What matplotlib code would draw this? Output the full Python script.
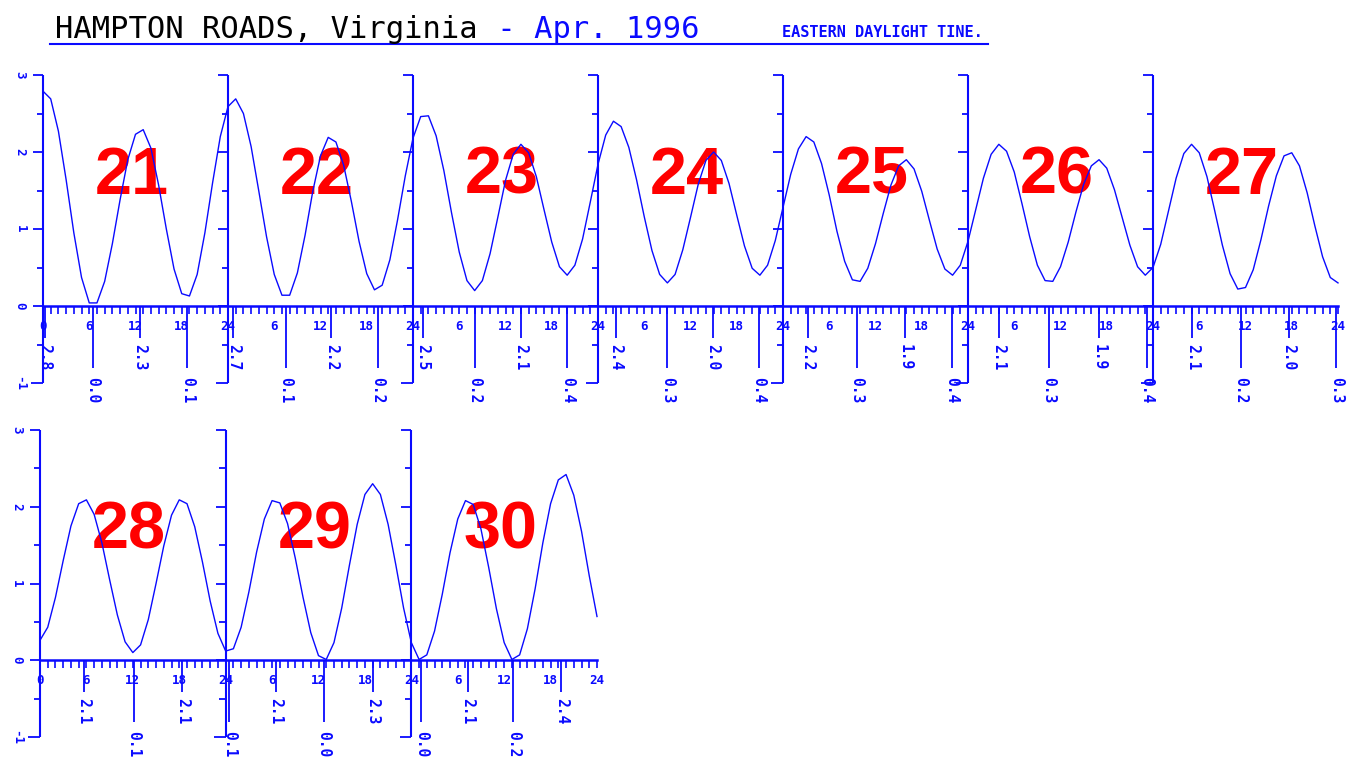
import numpy as np
import matplotlib.pyplot as plt
from matplotlib.lines import Line2D

BLUE = '#0a0aff'
RED = '#ff0000'
MONO = 'DejaVu Sans Mono'

W, H = 1353, 759

# ---- data: hourly heights (ft), hour 0..23 of each day
tide_21 = [2.79, 2.69, 2.27, 1.64, 0.95, 0.37, 0.04, 0.04, 0.32, 0.81, 1.38, 1.90,
           2.23, 2.29, 2.05, 1.57, 1.00, 0.48, 0.16, 0.13, 0.41, 0.95, 1.60, 2.20]
tide_22 = [2.59, 2.69, 2.50, 2.07, 1.49, 0.90, 0.41, 0.14, 0.14, 0.43, 0.92, 1.49,
           1.95, 2.19, 2.13, 1.83, 1.36, 0.84, 0.42, 0.21, 0.27, 0.60, 1.12, 1.69]
tide_23 = [2.18, 2.46, 2.47, 2.21, 1.76, 1.21, 0.70, 0.33, 0.20, 0.33, 0.68, 1.15,
           1.63, 1.97, 2.10, 1.99, 1.68, 1.25, 0.83, 0.51, 0.40, 0.53, 0.87, 1.35]
tide_24 = [1.84, 2.22, 2.40, 2.33, 2.06, 1.64, 1.16, 0.72, 0.41, 0.30, 0.41, 0.73,
           1.15, 1.58, 1.89, 2.00, 1.89, 1.59, 1.18, 0.78, 0.49, 0.40, 0.53, 0.85]
tide_25 = [1.28, 1.71, 2.04, 2.20, 2.13, 1.85, 1.44, 0.97, 0.58, 0.34, 0.32, 0.49,
           0.81, 1.20, 1.57, 1.82, 1.90, 1.78, 1.49, 1.11, 0.74, 0.48, 0.40, 0.53]
tide_26 = [0.84, 1.25, 1.66, 1.97, 2.10, 2.01, 1.74, 1.33, 0.90, 0.53, 0.33, 0.32,
           0.51, 0.83, 1.22, 1.58, 1.82, 1.90, 1.79, 1.51, 1.15, 0.79, 0.51, 0.40]
tide_27 = [0.50, 0.80, 1.23, 1.66, 1.98, 2.10, 1.99, 1.68, 1.24, 0.79, 0.42, 0.22,
           0.24, 0.47, 0.86, 1.30, 1.69, 1.95, 1.99, 1.82, 1.47, 1.04, 0.64, 0.37]
tide_28 = [0.26, 0.43, 0.82, 1.30, 1.75, 2.04, 2.09, 1.90, 1.53, 1.05, 0.59, 0.24,
           0.10, 0.20, 0.53, 1.00, 1.49, 1.89, 2.09, 2.04, 1.74, 1.28, 0.77, 0.35]
tide_29 = [0.12, 0.15, 0.43, 0.89, 1.41, 1.84, 2.08, 2.05, 1.78, 1.33, 0.82, 0.36,
           0.06, 0.01, 0.23, 0.68, 1.24, 1.77, 2.16, 2.30, 2.16, 1.77, 1.24, 0.68]
tide_30 = [0.23, 0.01, 0.07, 0.38, 0.86, 1.40, 1.84, 2.08, 2.03, 1.71, 1.21, 0.67,
           0.23, 0.01, 0.07, 0.41, 0.93, 1.53, 2.04, 2.35, 2.42, 2.15, 1.68, 1.10]
end_top = 0.30      # Apr 27, 24:00
end_bottom = 0.57   # Apr 30, 24:00

# high / low waters: (hour of day, height)
ext_21 = [(0.2, 2.8), (6.5, 0.0), (12.6, 2.3), (18.7, 0.1)]
ext_22 = [(0.7, 2.7), (7.5, 0.1), (13.4, 2.2), (19.4, 0.2)]
ext_23 = [(1.3, 2.5), (8.0, 0.2), (14.0, 2.1), (20.0, 0.4)]
ext_24 = [(2.3, 2.4), (9.0, 0.3), (14.9, 2.0), (20.9, 0.4)]
ext_25 = [(3.2, 2.2), (9.6, 0.3), (15.8, 1.9), (21.9, 0.4)]
ext_26 = [(4.0, 2.1), (10.5, 0.3), (17.0, 1.9), (23.2, 0.4)]
ext_27 = [(5.1, 2.1), (11.4, 0.2), (17.6, 2.0), (23.8, 0.3)]
ext_28 = [(5.7, 2.1), (12.1, 0.1), (18.4, 2.1)]
ext_29 = [(0.45, 0.1), (6.5, 2.1), (12.7, 0.0), (19.0, 2.3)]
ext_30 = [(1.3, 0.0), (7.3, 2.1), (13.2, 0.2), (19.4, 2.4)]

days_top = [21, 22, 23, 24, 25, 26, 27]
days_bottom = [28, 29, 30]
y_labels = [3, 2, 1, 0, -1]

tides = {21: tide_21, 22: tide_22, 23: tide_23, 24: tide_24, 25: tide_25,
         26: tide_26, 27: tide_27, 28: tide_28, 29: tide_29, 30: tide_30}
extremes = {21: ext_21, 22: ext_22, 23: ext_23, 24: ext_24, 25: ext_25,
            26: ext_26, 27: ext_27, 28: ext_28, 29: ext_29, 30: ext_30}


def draw_row(ax, days, end_value):
    n = len(days)
    span = 24 * n
    ax.set_xlim(0, span)
    ax.set_ylim(-1, 3)
    ax.axis('off')

    values = np.concatenate([tides[d] for d in days] + [[end_value]])
    hours = np.arange(len(values))
    ax.plot(hours, values, color=BLUE, lw=1.0, zorder=3, clip_on=False)

    # zero line with hourly ticks
    ax.plot([0, span], [0, 0], color=BLUE, lw=1.8, clip_on=False)
    ax.vlines(hours, -0.1, 0, color=BLUE, lw=1.2, clip_on=False)

    for i, day in enumerate(days):
        x0 = 24 * i
        ax.vlines(x0, -1, 3, color=BLUE, lw=1.5, clip_on=False)
        for yv in np.arange(-1, 3.01, 0.5):
            length = 1.5 if yv == -1 else (1.3 if yv == int(yv) else 0.8)
            ax.hlines(yv, x0 - length, x0, color=BLUE, lw=1.3, clip_on=False)

        marks = [6, 12, 18, 24] if i else [0, 6, 12, 18, 24]
        for hh in marks:
            ax.text(x0 + hh, -0.27, str(hh), color=BLUE, family=MONO,
                    fontsize=9, fontweight='bold', ha='center', va='center')

        ax.text(x0 + 11.5, 1.68, str(day), color=RED, fontsize=48,
                family='Liberation Sans', fontweight='bold',
                ha='center', va='center', zorder=2)

        for hh, v in extremes[day]:
            x = x0 + hh
            if v > 1:
                y_end, y_lab = -0.42, -0.49
            else:
                y_end, y_lab = -0.81, -0.92
            ax.vlines(x, y_end, 0, color=BLUE, lw=1.3, clip_on=False)
            ax.text(x, y_lab, f'{v:.1f}', color=BLUE, family=MONO, fontsize=10.5,
                    fontweight='bold', rotation=-90, ha='center', va='top')

    for yv in y_labels:
        ax.text(-3.0, yv, str(yv), color=BLUE, family=MONO, fontsize=9,
                fontweight='bold', rotation=-90, ha='center', va='center')


fig = plt.figure(figsize=(W / 100, H / 100), dpi=100)

ax_top = fig.add_axes([43 / W, 1 - 383 / H, 1295 / W, 308 / H])
draw_row(ax_top, days_top, end_top)

ax_bot = fig.add_axes([40 / W, 1 - 737 / H, 557 / W, 307 / H])
draw_row(ax_bot, days_bottom, end_bottom)

# title block
fig.text(55 / W, 1 - 38 / H, 'HAMPTON ROADS, Virginia', family=MONO,
         fontsize=22, color='black', va='baseline', ha='left')
fig.text((55 + 23 * 18.45) / W, 1 - 38 / H, ' - Apr. 1996', family=MONO,
         fontsize=22, color=BLUE, va='baseline', ha='left')
fig.text(782 / W, 1 - 37 / H, 'EASTERN DAYLIGHT TINE.', family=MONO,
         fontsize=11, fontweight='bold', color=BLUE, va='baseline', ha='left')
fig.add_artist(Line2D([50 / W, 988 / W], [1 - 44 / H, 1 - 44 / H],
                      transform=fig.transFigure, color=BLUE, lw=1.5))

fig.savefig('out.png', dpi=100)
